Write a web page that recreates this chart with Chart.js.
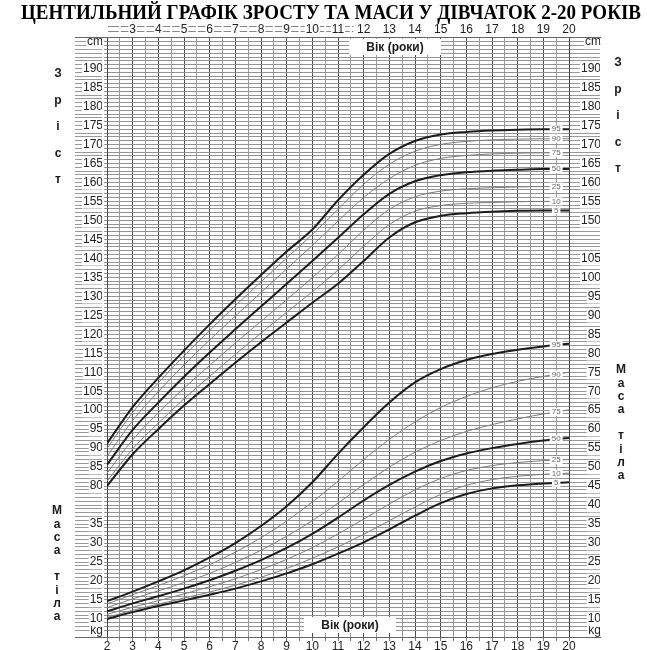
<!DOCTYPE html>
<html>
<head>
<meta charset="utf-8">
<script src="https://cdn.jsdelivr.net/npm/chart.js@4.4.1/dist/chart.umd.min.js"></script>
<style>
  html, body { margin: 0; padding: 0; background: #fff; }
  #wrap { width: 647px; height: 650px; }
</style>
</head>
<body>
<div id="wrap"><canvas id="growthChart"></canvas></div>
<script>
// вік (роки)
const ages = [2, 3, 4, 5, 6, 7, 8, 9, 10, 11, 12, 13, 14, 15, 16, 17, 18, 19, 20];
const percentiles = ['5', '10', '25', '50', '75', '90', '95'];

// зріст, см
const stature5  = [80.0, 88.4, 95.0, 101.2, 106.9, 112.5, 117.9, 123.1, 128.3, 133.3, 139.3, 145.5, 149.5, 151.2, 151.9, 152.3, 152.5, 152.6, 152.6];
const stature10 = [81.3, 89.8, 96.6, 103.0, 108.9, 114.7, 120.3, 125.8, 131.2, 136.9, 143.2, 148.9, 152.4, 153.9, 154.5, 154.7, 154.9, 155.0, 155.0];
const stature25 = [83.4, 92.2, 99.3, 105.8, 111.8, 117.7, 123.4, 129.1, 134.9, 141.0, 147.4, 152.9, 156.2, 157.7, 158.3, 158.6, 158.8, 158.9, 158.9];
const stature50 = [85.6, 94.8, 102.0, 108.8, 115.2, 121.3, 127.3, 133.3, 139.3, 145.4, 151.6, 157.0, 160.3, 161.9, 162.7, 163.1, 163.3, 163.5, 163.5];
const stature75 = [87.8, 97.3, 104.9, 111.9, 118.5, 124.8, 131.0, 137.2, 143.4, 149.8, 156.0, 161.0, 164.5, 166.3, 167.1, 167.5, 167.7, 167.8, 167.8];
const stature90 = [89.9, 99.4, 107.2, 114.3, 121.0, 127.5, 133.8, 140.1, 146.3, 152.9, 159.5, 164.8, 168.2, 170.0, 170.8, 171.2, 171.4, 171.5, 171.5];
const stature95 = [91.2, 100.8, 108.5, 115.7, 122.6, 129.2, 135.6, 141.8, 147.6, 155.3, 162.0, 167.5, 170.9, 172.6, 173.3, 173.7, 173.9, 174.0, 174.0];

// маса тіла, кг
const weight5  = [10.0, 11.8, 13.4, 14.9, 16.4, 18.0, 19.9, 22.0, 24.4, 27.2, 30.2, 33.6, 37.2, 40.5, 42.9, 44.4, 45.2, 45.7, 46.0];
const weight10 = [10.4, 12.3, 13.9, 15.5, 17.1, 18.9, 21.0, 23.3, 26.0, 29.0, 32.3, 35.9, 39.5, 42.8, 45.2, 46.7, 47.6, 48.1, 48.4];
const weight25 = [11.2, 13.1, 14.8, 16.6, 18.5, 20.6, 23.0, 25.7, 28.8, 32.4, 36.3, 40.3, 44.0, 47.0, 49.1, 50.4, 51.2, 51.7, 52.0];
const weight50 = [12.0, 14.1, 16.0, 18.0, 20.2, 22.7, 25.5, 28.7, 32.4, 36.7, 41.2, 45.3, 48.8, 51.6, 53.6, 55.0, 56.1, 57.0, 57.7];
const weight75 = [13.0, 15.3, 17.4, 19.6, 22.0, 24.9, 28.1, 31.8, 35.9, 40.5, 45.4, 50.0, 53.9, 57.0, 59.4, 61.2, 62.7, 64.0, 65.1];
const weight90 = [14.0, 16.4, 18.8, 21.4, 24.3, 27.6, 31.4, 35.8, 40.8, 46.3, 52.0, 57.3, 61.9, 65.7, 68.6, 70.9, 72.6, 73.9, 75.0];
const weight95 = [14.7, 17.2, 19.9, 22.8, 26.2, 30.0, 34.5, 39.7, 46.0, 53.5, 60.5, 67.0, 72.3, 75.8, 78.2, 79.8, 80.9, 81.8, 82.5];

// підписи шкал
const leftStatureTicks  = [80, 85, 90, 95, 100, 105, 110, 115, 120, 125, 130, 135, 140, 145, 150, 155, 160, 165, 170, 175, 180, 185, 190];
const leftWeightTicks   = [10, 15, 20, 25, 30, 35];
const rightStatureTicks = [150, 155, 160, 165, 170, 175, 180, 185, 190];
const rightWeightTicks  = [10, 15, 20, 25, 30, 35, 40, 45, 50, 55, 60, 65, 70, 75, 80, 85, 90, 95, 100, 105];
const topAgeTicks = [3, 4, 5, 6, 7, 8, 9, 10, 11, 12, 13, 14, 15, 16, 17, 18, 19, 20];
const bottomAgeTicks = [2, 3, 4, 5, 6, 7, 8, 9, 10, 11, 12, 13, 14, 15, 16, 17, 18, 19, 20];

const titleText = 'ЦЕНТИЛЬНИЙ ГРАФІК ЗРОСТУ ТА МАСИ У ДІВЧАТОК 2-20 РОКІВ';
const cmOffset = 35;      // шкала зросту = шкала маси + 35
const weightMin = 5.25, weightMax = 163.3;
const cmMark = 162, kgMark = 7;   // де стоять "cm" і "kg"
const labelAge = 19.5;
const rulerEnd = 11.6;    // до якого віку верхня шкала з подвійною лінією

const statureSets = [stature5, stature10, stature25, stature50, stature75, stature90, stature95];
const weightSets = [weight5, weight10, weight25, weight50, weight75, weight90, weight95];

function makeLine(label, values, axis) {
  const thick = label === '5' || label === '50' || label === '95';
  return {
    label: label,
    data: ages.map((a, i) => ({ x: a, y: values[i] })),
    yAxisID: axis,
    borderColor: thick ? '#1c1c1c' : '#7c7c7c',
    borderWidth: thick ? 2 : 1,
    pointRadius: 0,
    cubicInterpolationMode: 'monotone',
    fill: false,
    order: thick ? 0 : 1
  };
}

const datasets = [];
percentiles.forEach((p, i) => {
  datasets.push(makeLine(p, statureSets[i], 'yS'));
  datasets.push(makeLine(p, weightSets[i], 'yW'));
});

function axisLabel(v, statureTicks, weightTicks) {
  const n = Math.round(v);
  if (Math.abs(v - n) > 0.01) return '';
  if (n === cmMark) return 'cm';
  if (n === kgMark) return 'kg';
  if (statureTicks.includes(n + cmOffset)) return String(n + cmOffset);
  if (weightTicks.includes(n)) return String(n);
  return '';
}

// заголовок, подвійна лінія верхньої шкали та рамка
const frame = {
  id: 'frame',
  beforeDraw(chart) {
    const ctx = chart.ctx;
    const xs = chart.scales.x;
    ctx.save();
    ctx.strokeStyle = '#888';
    ctx.lineWidth = 1;
    ctx.beginPath();
    [26.5, 31.5].forEach(y => {
      ctx.moveTo(xs.getPixelForValue(2), y);
      ctx.lineTo(xs.getPixelForValue(rulerEnd), y);
    });
    ctx.stroke();

    ctx.fillStyle = '#000';
    ctx.font = 'bold 20px "Liberation Serif", "Times New Roman", serif';
    ctx.textAlign = 'center';
    ctx.textBaseline = 'middle';
    ctx.fillText(titleText, 331, 14, 620);
    ctx.restore();
  },
  afterDraw(chart) {
    const ctx = chart.ctx;
    const a = chart.chartArea;
    ctx.save();
    ctx.strokeStyle = '#666';
    ctx.lineWidth = 1;
    ctx.beginPath();
    ctx.moveTo(75, Math.round(a.top) + 0.5);
    ctx.lineTo(601, Math.round(a.top) + 0.5);
    ctx.moveTo(75, Math.round(a.bottom) + 0.5);
    ctx.lineTo(601, Math.round(a.bottom) + 0.5);
    ctx.stroke();
    ctx.restore();
  }
};

// підписи центилів на кінцях кривих
const curveLabels = {
  id: 'curveLabels',
  afterDatasetsDraw(chart) {
    const ctx = chart.ctx;
    const xs = chart.scales.x;
    ctx.save();
    ctx.font = '8px "Liberation Sans", Arial, sans-serif';
    ctx.textAlign = 'center';
    ctx.textBaseline = 'middle';
    chart.data.datasets.forEach(ds => {
      const ys = chart.scales[ds.yAxisID];
      const n = ds.data.length;
      const v = (ds.data[n - 2].y + ds.data[n - 1].y) / 2;
      const px = xs.getPixelForValue(labelAge);
      const py = ys.getPixelForValue(v);
      const w = ctx.measureText(ds.label).width + 4;
      ctx.fillStyle = '#fff';
      ctx.fillRect(px - w / 2, py - 4, w, 8);
      ctx.fillStyle = '#666';
      ctx.fillText(ds.label, px, py);
    });
    ctx.restore();
  }
};

// вертикальні написи, "Вік (роки)"
const sideText = {
  id: 'sideText',
  afterDraw(chart) {
    const ctx = chart.ctx;
    ctx.save();
    ctx.fillStyle = '#1a1a1a';
    ctx.font = 'bold 12px "Liberation Sans", Arial, sans-serif';
    ctx.textAlign = 'center';
    ctx.textBaseline = 'middle';
    const zrist = ['З', 'р', 'і', 'с', 'т'];
    const masa = ['М', 'а', 'с', 'а', '', 'т', 'і', 'л', 'а'];
    zrist.forEach((ch, i) => ctx.fillText(ch, 58, 74 + i * 26.5));
    zrist.forEach((ch, i) => ctx.fillText(ch, 618, 63 + i * 26.5));
    masa.forEach((ch, i) => ctx.fillText(ch, 57, 511 + i * 13.2));
    masa.forEach((ch, i) => ctx.fillText(ch, 621, 370 + i * 13.2));

    const boxes = [[395, 47], [350, 625]];
    boxes.forEach(([cx, cy]) => {
      ctx.fillStyle = '#fff';
      ctx.fillRect(cx - 46, cy - 8, 92, 16);
      ctx.fillStyle = '#1a1a1a';
      ctx.fillText('Вік (роки)', cx, cy + 1);
    });
    ctx.restore();
  }
};

const tickFont = { family: '"Liberation Sans", Arial, sans-serif', size: 12 };

const ctx = document.getElementById('growthChart').getContext('2d');
const growthChart = new Chart(ctx, {
  type: 'line',
  data: { datasets: datasets },
  options: {
    responsive: true,
    maintainAspectRatio: false,
    animation: false,
    layout: { padding: { left: 75, right: 46, top: 24, bottom: 0 } },
    plugins: {
      legend: { display: false },
      tooltip: { enabled: false },
      title: { display: false }
    },
    scales: {
      x: {
        type: 'linear', position: 'bottom', min: 2, max: 20,
        ticks: {
          stepSize: 0.5, autoSkip: false, maxRotation: 0, padding: -2,
          color: '#222', font: tickFont,
          callback: v => bottomAgeTicks.includes(v) ? String(v) : ''
        },
        grid: {
          color: c => Number.isInteger(c.tick.value) ? '#4e4e4e' : '#9a9a9a',
          tickColor: '#777', tickLength: 4
        },
        border: { display: false },
        afterFit: s => { s.height = 13; }
      },
      xTop: {
        type: 'linear', position: 'top', min: 2, max: 20,
        ticks: {
          stepSize: 0.5, autoSkip: false, maxRotation: 0, padding: -12,
          color: '#222', font: tickFont,
          showLabelBackdrop: true, backdropColor: '#fff', backdropPadding: { x: 1, y: 0 },
          callback: v => topAgeTicks.includes(v) ? String(v) : ''
        },
        grid: {
          drawOnChartArea: false, tickLength: 12,
          tickColor: c => (!Number.isInteger(c.tick.value) && c.tick.value < rulerEnd) ? '#777' : 'rgba(0,0,0,0)'
        },
        border: { display: false },
        afterFit: s => { s.height = 13; }
      },
      yW: {
        type: 'linear', position: 'left', min: weightMin, max: weightMax,
        ticks: {
          stepSize: 1, autoSkip: false, padding: -28, color: '#222', font: tickFont,
          showLabelBackdrop: true, backdropColor: '#fff', backdropPadding: { x: 1, y: 0 },
          callback: v => axisLabel(v, leftStatureTicks, leftWeightTicks)
        },
        grid: { color: '#939393', tickColor: '#999', tickLength: 32 },
        border: { display: true, color: '#444' },
        afterFit: s => { s.width = 32; }
      },
      yR: {
        type: 'linear', position: 'right', min: weightMin, max: weightMax,
        ticks: {
          stepSize: 1, autoSkip: false, padding: -25, crossAlign: 'far', color: '#222', font: tickFont,
          showLabelBackdrop: true, backdropColor: '#fff', backdropPadding: { x: 1, y: 0 },
          callback: v => axisLabel(v, rightStatureTicks, rightWeightTicks)
        },
        grid: { drawOnChartArea: false, tickColor: '#999', tickLength: 32 },
        border: { display: true, color: '#444' },
        afterFit: s => { s.width = 32; }
      },
      yS: {
        type: 'linear', display: false,
        min: weightMin + cmOffset, max: weightMax + cmOffset
      }
    }
  },
  plugins: [frame, curveLabels, sideText]
});
</script>
</body>
</html>
